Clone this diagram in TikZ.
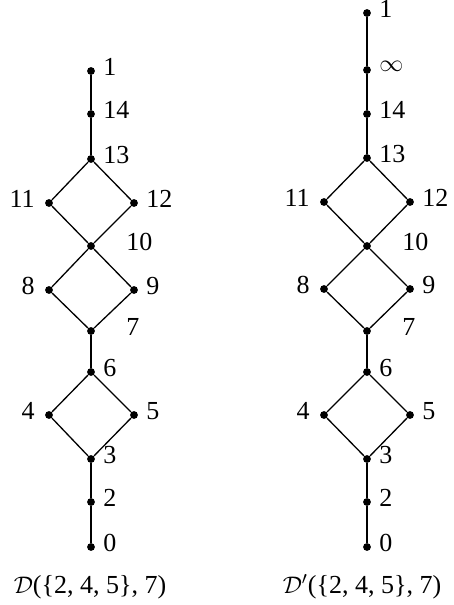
\documentclass[tikz,border=0pt]{standalone}
\usepackage{fontspec}
\setmainfont{Liberation Serif}
\begin{document}
\begin{tikzpicture}[x=0.5pt,y=-0.5pt,
  every node/.style={font=\fontsize{13}{15}\selectfont},
  vx/.style={circle,fill=black,inner sep=0pt,minimum size=3.9pt},
  lbR/.style={anchor=west,inner sep=0pt,xshift=6pt,yshift=2pt},
  lbL/.style={anchor=east,inner sep=0pt,xshift=-7pt,yshift=2pt},
  lbF/.style={anchor=west,inner sep=0pt,xshift=17.5pt,yshift=2pt},
  chainline/.style={line width=1.1pt},
  diagline/.style={line width=0.65pt},
  capnode/.style={anchor=base,inner sep=0pt}]
\useasboundingbox (0,0) rectangle (454,605);
% ---------- left lattice ----------
\node[vx] (a1)  at (91,71)  {};
\node[vx] (a14) at (91,114) {};
\node[vx] (a13) at (91,159) {};
\node[vx] (a11) at (49,203) {};
\node[vx] (a12) at (134,203) {};
\node[vx] (a10) at (91,246) {};
\node[vx] (a8)  at (49,290) {};
\node[vx] (a9)  at (134,290) {};
\node[vx] (a7)  at (91,331) {};
\node[vx] (a6)  at (91,372) {};
\node[vx] (a4)  at (49,415) {};
\node[vx] (a5)  at (134,415) {};
\node[vx] (a3)  at (91,459) {};
\node[vx] (a2)  at (91,502) {};
\node[vx] (a0)  at (91,547) {};
\draw[chainline] (a1) -- (a14) -- (a13);
\draw[chainline] (a7) -- (a6);
\draw[chainline] (a3) -- (a2) -- (a0);
\draw[diagline] (a13) -- (a11) -- (a10) -- (a12) -- (a13);
\draw[diagline] (a10) -- (a8) -- (a7) -- (a9) -- (a10);
\draw[diagline] (a6) -- (a4) -- (a3) -- (a5) -- (a6);
\node[lbR] (la1)  at (a1)  {1};
\node[lbR] (la14) at (a14) {14};
\node[lbR] (la13) at (a13) {13};
\node[lbL] (la11) at (a11) {11};
\node[lbR] (la12) at (a12) {12};
\node[lbF] (la10) at (a10) {10};
\node[lbL] (la8)  at (a8)  {8};
\node[lbR] (la9)  at (a9)  {9};
\node[lbF] (la7)  at (a7)  {7};
\node[lbR] (la6)  at (a6)  {6};
\node[lbL] (la4)  at (a4)  {4};
\node[lbR] (la5)  at (a5)  {5};
\node[lbR] (la3)  at (a3)  {3};
\node[lbR] (la2)  at (a2)  {2};
\node[lbR] (la0)  at (a0)  {0};
\node[capnode] (capA) at (90,593) {$\mathcal{D}$(\{2, 4, 5\}, 7)};
% ---------- right lattice ----------
\node[vx] (b1)   at (367,13)  {};
\node[vx] (binf) at (367,70)  {};
\node[vx] (b14)  at (367,114) {};
\node[vx] (b13)  at (367,158) {};
\node[vx] (b11)  at (324,202) {};
\node[vx] (b12)  at (410,202) {};
\node[vx] (b10)  at (367,246) {};
\node[vx] (b8)   at (324,289) {};
\node[vx] (b9)   at (410,289) {};
\node[vx] (b7)   at (367,331) {};
\node[vx] (b6)   at (367,372) {};
\node[vx] (b4)   at (324,415) {};
\node[vx] (b5)   at (410,415) {};
\node[vx] (b3)   at (367,459) {};
\node[vx] (b2)   at (367,502) {};
\node[vx] (b0)   at (367,547) {};
\draw[chainline] (b1) -- (binf) -- (b14) -- (b13);
\draw[chainline] (b7) -- (b6);
\draw[chainline] (b3) -- (b2) -- (b0);
\draw[diagline] (b13) -- (b11) -- (b10) -- (b12) -- (b13);
\draw[diagline] (b10) -- (b8) -- (b7) -- (b9) -- (b10);
\draw[diagline] (b6) -- (b4) -- (b3) -- (b5) -- (b6);
\node[lbR] (lb1)   at (b1)   {1};
\node[lbR] (lbinf) at (binf) {$\infty$};
\node[lbR] (lb14)  at (b14)  {14};
\node[lbR] (lb13)  at (b13)  {13};
\node[lbL] (lb11)  at (b11)  {11};
\node[lbR] (lb12)  at (b12)  {12};
\node[lbF] (lb10)  at (b10)  {10};
\node[lbL] (lb8)   at (b8)   {8};
\node[lbR] (lb9)   at (b9)   {9};
\node[lbF] (lb7)   at (b7)   {7};
\node[lbR] (lb6)   at (b6)   {6};
\node[lbL] (lb4)   at (b4)   {4};
\node[lbR] (lb5)   at (b5)   {5};
\node[lbR] (lb3)   at (b3)   {3};
\node[lbR] (lb2)   at (b2)   {2};
\node[lbR] (lb0)   at (b0)   {0};
\node[capnode] (capB) at (362,593) {$\mathcal{D}'$(\{2, 4, 5\}, 7)};
\end{tikzpicture}
\end{document}
